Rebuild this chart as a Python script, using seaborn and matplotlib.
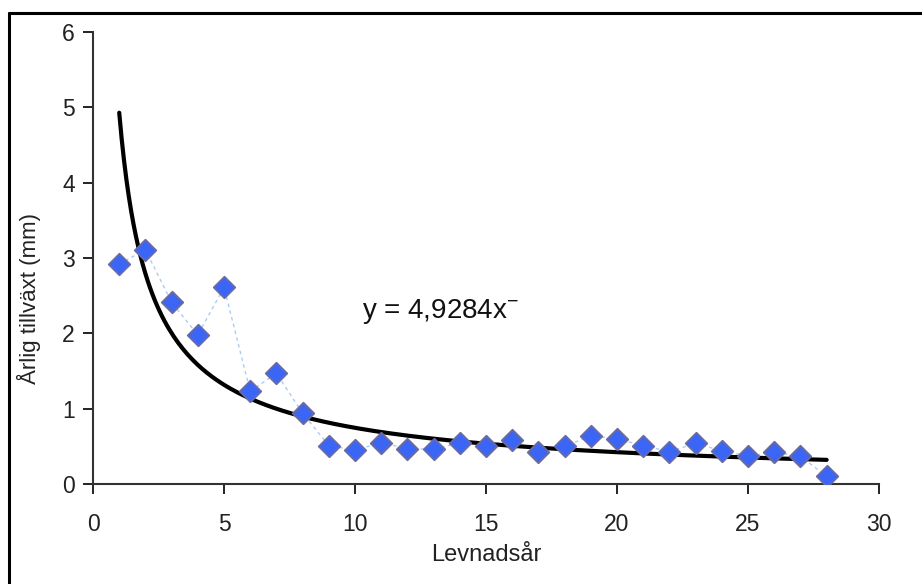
import numpy as np
import pandas as pd
import matplotlib
matplotlib.use("Agg")
import matplotlib.pyplot as plt
from matplotlib.lines import Line2D
import seaborn as sns

# Annual growth per year of life
years = list(range(1, 29))
growth = [2.92, 3.11, 2.41, 1.98, 2.61, 1.23, 1.47, 0.94, 0.51, 0.45,
          0.55, 0.47, 0.46, 0.55, 0.51, 0.58, 0.43, 0.50, 0.64, 0.60,
          0.51, 0.43, 0.54, 0.44, 0.37, 0.42, 0.37, 0.10]

# Power trend line y = a * x^b
trend_coef = 4.9284
trend_exp = -0.82

x_ticks = [0, 5, 10, 15, 20, 25, 30]
y_ticks = [0, 1, 2, 3, 4, 5, 6]

sns.set_theme(style="white")
plt.rcParams["font.family"] = ["Liberation Sans", "DejaVu Sans"]
plt.rcParams["mathtext.fontset"] = "custom"
plt.rcParams["mathtext.rm"] = "Liberation Sans"
plt.rcParams["mathtext.it"] = "Liberation Sans"

df = pd.DataFrame({"year": years, "growth": growth})
xt = np.linspace(min(years), max(years), 300)
trend = pd.DataFrame({"year": xt, "fit": trend_coef * xt ** trend_exp})

fig = plt.figure(figsize=(9.22, 5.84), dpi=100)
ax = fig.add_axes([0.1009, 0.1712, 0.8525, 0.774])

sns.lineplot(data=df, x="year", y="growth", ax=ax, color="#a9cdf5",
             linewidth=1.0, linestyle=(0, (2.5, 2.5)), zorder=2)
sns.lineplot(data=trend, x="year", y="fit", ax=ax, color="black",
             linewidth=3.0, zorder=3)
sns.scatterplot(data=df, x="year", y="growth", ax=ax, marker="D", s=120,
                color="#3b66f5", edgecolor="#6a6aa0", linewidth=1.3, zorder=4)

ax.text(13.25, 2.29, "y = 4,9284x$^{-}$", fontsize=20, ha="center",
        va="center", color="#111111")

ax.set_xlim(0, 30)
ax.set_ylim(0, 6)
ax.set_xticks(x_ticks)
ax.set_yticks(y_ticks)
ax.tick_params(axis="x", direction="out", length=7, width=1.4, pad=14,
               labelsize=16.5, colors="#222222", bottom=True)
ax.tick_params(axis="y", direction="out", length=7, width=1.4, pad=6,
               labelsize=16.5, colors="#222222", left=True)
for s in ("top", "right"):
    ax.spines[s].set_visible(False)
for s in ("left", "bottom"):
    ax.spines[s].set_color("#333333")
    ax.spines[s].set_linewidth(1.5)

ax.set_xlabel("Levnadsår", fontsize=17, color="#222222")
ax.set_ylabel("Årlig tillväxt (mm)", fontsize=16, color="#222222")
ax.xaxis.set_label_coords(0.5, -0.133)
ax.yaxis.set_label_coords(-0.066, 0.41)

# Chart frame: top and left edges
fig.add_artist(Line2D([9 / 922, 1.0], [1 - 12.5 / 584] * 2, color="black",
                      linewidth=2.2, transform=fig.transFigure))
fig.add_artist(Line2D([9 / 922] * 2, [0, 1 - 12.5 / 584], color="black",
                      linewidth=2.2, transform=fig.transFigure))

fig.savefig("out.png", dpi=100, facecolor="white")
